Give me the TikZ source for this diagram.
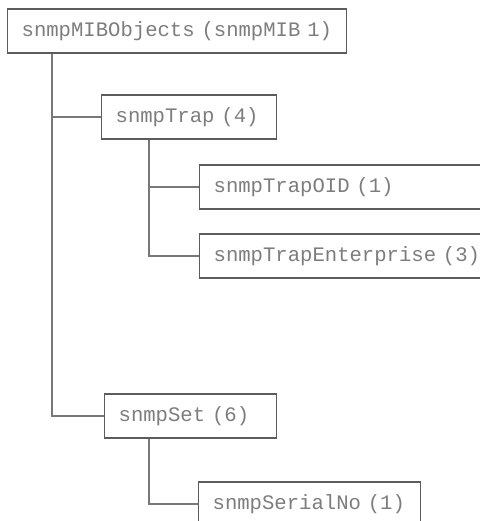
\documentclass[tikz,border=0pt]{standalone}
\usepackage{fontspec}
\usepackage{tikz}
\usetikzlibrary{positioning,calc}
\newfontfamily\mibfont[WordSpace={1,0,0}]{Liberation Mono}
\definecolor{boxline}{RGB}{92,92,92}
\definecolor{treeline}{RGB}{120,120,120}
\definecolor{mibtext}{RGB}{125,125,125}
\tikzset{
  mibbox/.style={draw=boxline,line width=1.3pt,anchor=west,align=left,
    inner xsep=14bp,inner ysep=0pt,minimum height=44bp,
    text=mibtext,font=\mibfont\fontsize{20.6bp}{24bp}\selectfont},
  branch/.style={draw=treeline,line width=1.3pt}
}

\begin{document}
\begin{tikzpicture}[x=1bp,y=1bp]
  \useasboundingbox[fill=white] (0,0) rectangle (480,-521);
  \clip (0,0) rectangle (480,-521);
  % boxes
  \node[mibbox,text width=311bp] (root)   at (7,-31)    {snmpMIBObjects (snmpMIB 1)};
  \node[mibbox,text width=147bp] (trap)   at (101,-117) {snmpTrap (4)};
  \node[mibbox,text width=300bp] (trapoid) at (199,-187) {snmpTrapOID (1)};
  \node[mibbox,text width=300bp] (trapent) at (199,-256) {snmpTrapEnterprise (3)};
  \node[mibbox,text width=144bp] (set)    at (104,-416) {snmpSet (6)};
  \node[mibbox,text width=194bp] (serial) at (198,-504) {snmpSerialNo (1)};
  % tree lines
  \draw[branch] ([xshift=45bp]root.south west) |- (trap.west);
  \draw[branch] ([xshift=45bp]root.south west) |- (set.west);
  \draw[branch] ([xshift=48bp]trap.south west) |- (trapoid.west);
  \draw[branch] ([xshift=48bp]trap.south west) |- (trapent.west);
  \draw[branch] ([xshift=45bp]set.south west) |- (serial.west);
\end{tikzpicture}
\end{document}
